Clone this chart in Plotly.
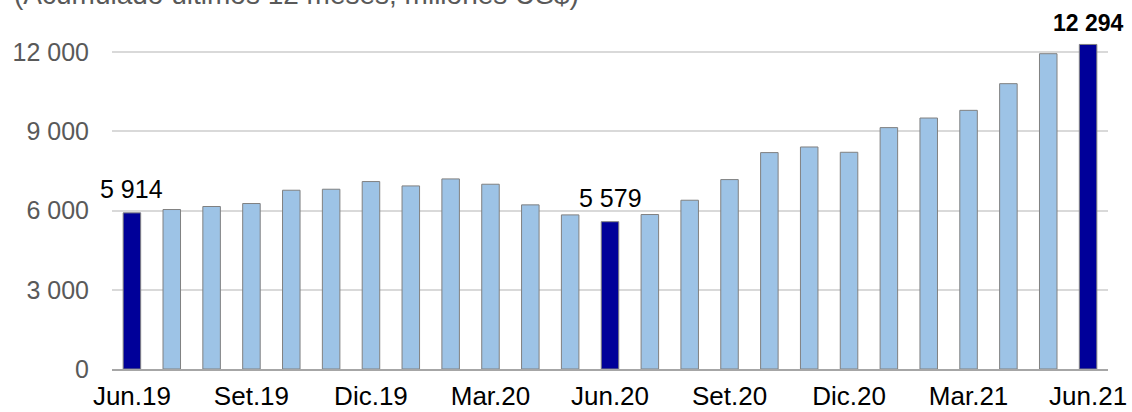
import plotly.graph_objects as go

categories = ["Jun.19", "Jul.19", "Ago.19", "Set.19", "Oct.19", "Nov.19", "Dic.19",
              "Ene.20", "Feb.20", "Mar.20", "Abr.20", "May.20", "Jun.20", "Jul.20",
              "Ago.20", "Set.20", "Oct.20", "Nov.20", "Dic.20", "Ene.21", "Feb.21",
              "Mar.21", "Abr.21", "May.21", "Jun.21"]
values = [5914, 6041, 6155, 6268, 6772, 6810, 7100, 6935, 7200, 6999, 6217, 5838,
          5579, 5851, 6393, 7175, 8197, 8410, 8209, 9143, 9507, 9798, 10808, 11943, 12294]
highlight = ["Jun.19", "Jun.20", "Jun.21"]
tick_labels = ["Jun.19", "Set.19", "Dic.19", "Mar.20", "Jun.20", "Set.20", "Dic.20", "Mar.21", "Jun.21"]
y_ticks = [0, 3000, 6000, 9000, 12000]
title_text = "(Acumulado últimos 12 meses, millones US$)"

LIGHT = "#9DC3E6"
DARK = "#000099"
colors = [DARK if c in highlight else LIGHT for c in categories]

fig = go.Figure()
fig.add_trace(go.Bar(
    x=categories, y=values,
    marker=dict(color=colors, line=dict(color="#808080", width=1)),
    width=0.44,
    hoverinfo="skip",
    cliponaxis=False,
))

font = "Liberation Sans, Arial, sans-serif"

for c, v in zip(categories, values):
    if c in highlight:
        bold = c == highlight[-1]
        fig.add_annotation(
            x=c, y=v, xref="x", yref="y",
            text=(f"<b>{v:,}</b>" if bold else f"{v:,}").replace(",", " "),
            showarrow=False, yanchor="bottom", yshift=6 if bold else 8,
            font=dict(family=font, size=23 if bold else 25, color="#000000"),
        )

fig.add_annotation(
    x=-0.1, y=1.082, xref="paper", yref="paper", xanchor="left", yanchor="bottom",
    text=title_text, showarrow=False,
    font=dict(family=font, size=28, color="#595959"),
)

fig.update_layout(
    width=1132, height=412,
    margin=dict(l=112, r=24, t=39, b=43, autoexpand=False),
    paper_bgcolor="white", plot_bgcolor="white",
    showlegend=False,
    separators=". ",
    bargap=0.56,
)
fig.update_xaxes(
    type="category", automargin=False,
    tickmode="array", tickvals=tick_labels, ticktext=tick_labels,
    tickfont=dict(family=font, size=26, color="#000000"),
    showline=True, linecolor="#A6A6A6", linewidth=1.5,
    ticks="", showgrid=False, ticklabelstandoff=3,
    range=[-0.5, len(categories) - 0.5],
)
fig.update_yaxes(
    range=[0, 12500], automargin=False,
    tickmode="array", tickvals=y_ticks,
    tickformat=",d",
    tickfont=dict(family=font, size=25, color="#595959"),
    showgrid=True, gridcolor="#D9D9D9", gridwidth=1.5,
    zeroline=False, showline=False,
    ticks="", ticklabelstandoff=22,
)

fig.write_html("out.html",
               config={"displayModeBar": False},
               post_script="document.body.style.margin='0';document.body.style.overflow='hidden';")
